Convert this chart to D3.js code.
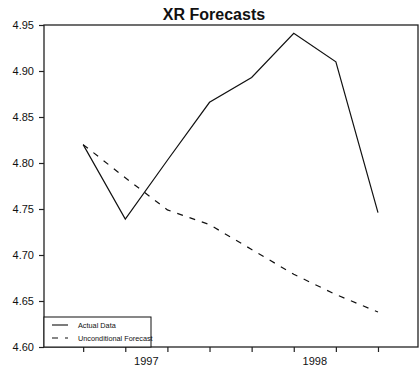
<!DOCTYPE html>
<html>
<head>
<meta charset="utf-8">
<script src="https://cdn.jsdelivr.net/npm/d3@7"></script>
<style>
  html, body { margin: 0; padding: 0; background: #fff; }
  svg { display: block; font-family: "Liberation Sans", Arial, sans-serif; }
</style>
</head>
<body>
<svg id="chart" width="420" height="371"></svg>
<script>
// Quarterly exchange-rate series, 1997Q1 .. 1998Q4
const quarters = ["1997Q1", "1997Q2", "1997Q3", "1997Q4", "1998Q1", "1998Q2", "1998Q3", "1998Q4"];
const actual = [4.820, 4.739, 4.803, 4.866, 4.893, 4.941, 4.910, 4.746];
const forecast = [4.820, 4.784, 4.749, 4.733, 4.706, 4.679, 4.657, 4.638];
const yTicks = [4.60, 4.65, 4.70, 4.75, 4.80, 4.85, 4.90, 4.95];
const yearLabels = ["1997", "1998"];
const yearCenters = [1.5, 5.5]; // mid-year, in quarter-index units
const seriesNames = ["Actual Data", "Unconditional Forecast"];

const svg = d3.select("#chart");
const plotL = 44, plotR = 418, plotT = 25, plotB = 347;

const x = d3.scaleLinear().domain([-0.93, 7.95]).range([plotL, plotR]);
const y = d3.scaleLinear().domain([4.60, 4.95]).range([plotB, plotT]);

const ink = "#111";

// Title
svg.append("text")
  .attr("x", 214).attr("y", 20)
  .attr("text-anchor", "middle")
  .attr("font-size", 16).attr("font-weight", "bold")
  .attr("fill", ink)
  .text("XR Forecasts");

// Frame
svg.append("rect")
  .attr("x", plotL).attr("y", plotT)
  .attr("width", plotR - plotL).attr("height", plotB - plotT)
  .attr("fill", "none").attr("stroke", "#222").attr("stroke-width", 1.3);

// Y axis
const yAxis = d3.axisLeft(y).tickValues(yTicks).tickFormat(d3.format(".2f")).tickSize(5).tickPadding(5);
const gy = svg.append("g").attr("transform", `translate(${plotL},0)`).call(yAxis);
gy.select(".domain").remove();
gy.selectAll("line").attr("stroke", "#222").attr("stroke-width", 1.2);
gy.selectAll("text").attr("font-size", 11).attr("fill", ink).attr("font-family", "Liberation Sans, Arial, sans-serif");

// X axis: quarterly ticks, year labels centred on each year
const xAxis = d3.axisBottom(x).tickValues(d3.range(quarters.length)).tickFormat("").tickSize(5);
const gx = svg.append("g").attr("transform", `translate(0,${plotB})`).call(xAxis);
gx.select(".domain").remove();
gx.selectAll("line").attr("stroke", "#222").attr("stroke-width", 1.2);

svg.append("g").selectAll("text")
  .data(yearLabels)
  .join("text")
  .attr("x", (d, i) => x(yearCenters[i]))
  .attr("y", 365)
  .attr("text-anchor", "middle")
  .attr("font-size", 11).attr("fill", ink)
  .text(d => d);

// Series lines
const line = d3.line().x((d, i) => x(i)).y(d => y(d));

svg.append("path")
  .datum(actual)
  .attr("d", line)
  .attr("fill", "none").attr("stroke", ink).attr("stroke-width", 1.2)
  .attr("stroke-linejoin", "miter");

svg.append("path")
  .datum(forecast)
  .attr("d", line)
  .attr("fill", "none").attr("stroke", ink).attr("stroke-width", 1.2)
  .attr("stroke-dasharray", "6,7");

// Legend
const lg = svg.append("g");
lg.append("rect")
  .attr("x", plotL).attr("y", 317)
  .attr("width", 107).attr("height", plotB - 317)
  .attr("fill", "#fff").attr("stroke", ink).attr("stroke-width", 1);

const rows = [
  { name: seriesNames[0], dash: null, yy: 325 },
  { name: seriesNames[1], dash: "6,7", yy: 338 }
];
rows.forEach(r => {
  lg.append("line")
    .attr("x1", 52).attr("x2", 68)
    .attr("y1", r.yy).attr("y2", r.yy)
    .attr("stroke", ink).attr("stroke-width", 1.1)
    .attr("stroke-dasharray", r.dash);
  lg.append("text")
    .attr("x", 78).attr("y", r.yy + 2.5)
    .attr("font-size", 7.3).attr("fill", ink)
    .text(r.name);
});
</script>
</body>
</html>
